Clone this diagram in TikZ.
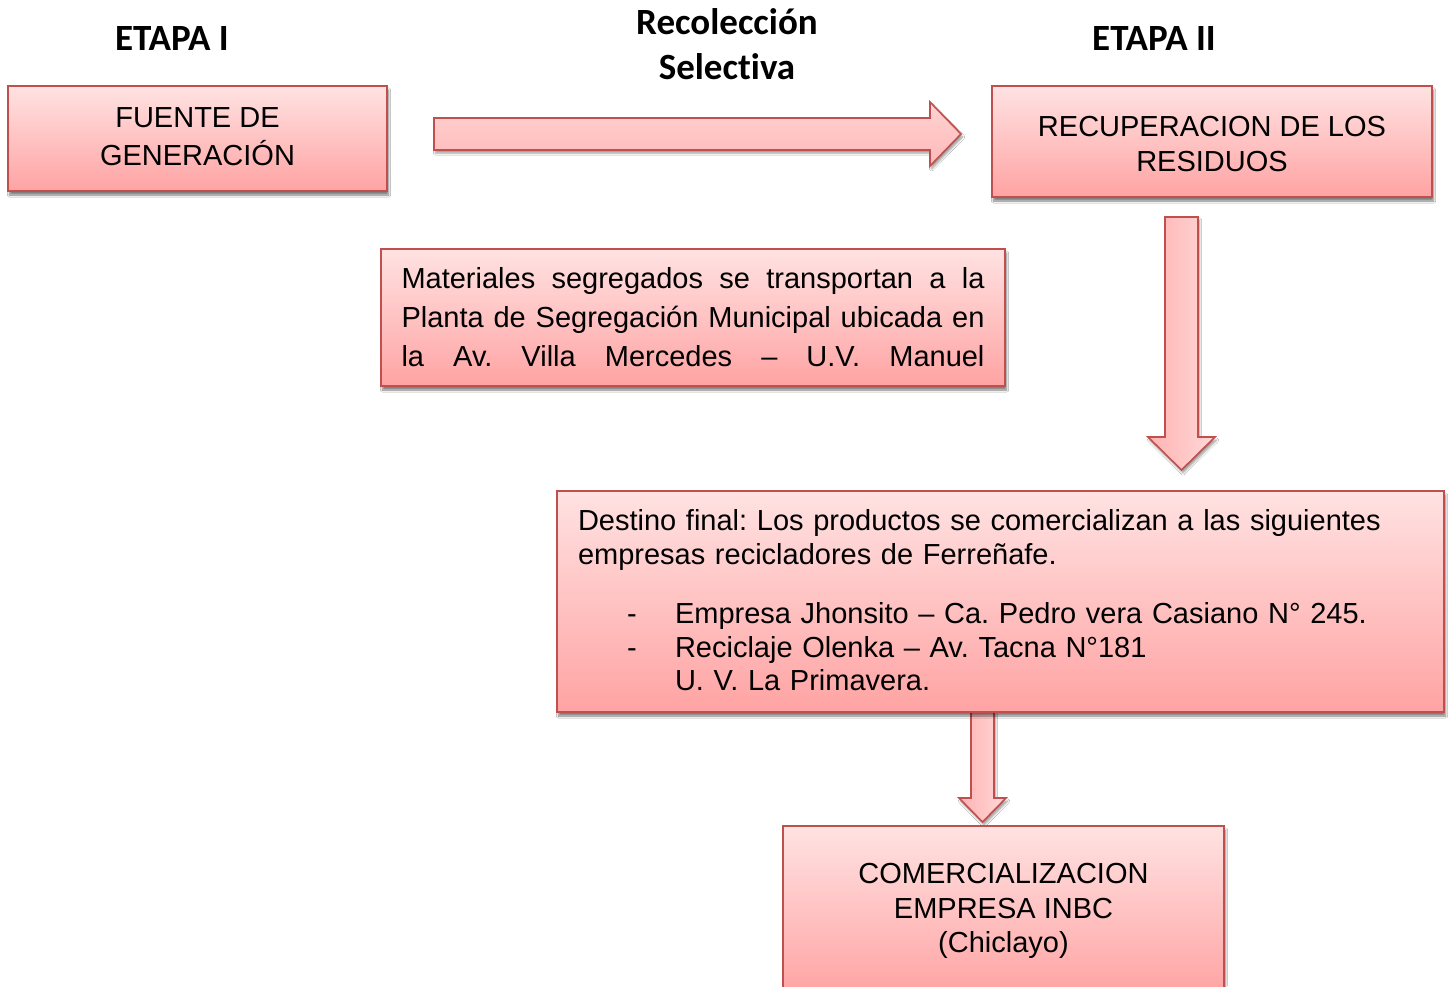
\documentclass[tikz,border=0pt]{standalone}
\usepackage{fontspec}
\setmainfont{Liberation Sans}
\newfontfamily\hdrfont[Ligatures=NoCommon]{Carlito}
\usetikzlibrary{calc,shadows.blur}
\definecolor{bordc}{RGB}{192,80,77}
\definecolor{boxtop}{RGB}{255,226,226}
\definecolor{boxbot}{RGB}{255,163,163}
\definecolor{arrL}{RGB}{255,178,178}
\definecolor{arrR}{RGB}{255,216,216}
\definecolor{arrT}{RGB}{255,210,210}
\definecolor{arrB}{RGB}{255,185,185}
\frenchspacing
\newcommand\fullline[1]{\leavevmode\hbox to 583pt{#1}}
\begin{document}
\begin{tikzpicture}[x=1pt,y=-1pt,
  box/.style={draw=bordc, line width=1.6pt, top color=boxtop, bottom color=boxbot,
    blur shadow={shadow xshift=1.5pt, shadow yshift=-4pt, shadow blur steps=6, shadow opacity=50},
    inner sep=0pt, align=center},
  hdr/.style={font=\hdrfont\bfseries\fontsize{37}{45}\selectfont, align=center, inner sep=0pt},
  barrow/.style={draw=bordc, line width=1.6pt,
    blur shadow={shadow xshift=1.5pt, shadow yshift=-3pt, shadow blur steps=6, shadow opacity=40}},
]
\useasboundingbox (0,0) rectangle (1450,986);
\fill[white] (0,0) rectangle (1450,986);

% headers
\node[hdr] (h1) at (172,38) {ETAPA I};
\node[hdr] (h2) at (727,44) {Recolección\\Selectiva};
\node[hdr] (h3) at (1154,38) {ETAPA II};

% arrows
\coordinate (r1s) at (434,134);
\coordinate (r1e) at (961,134);
\draw[barrow, top color=arrT, bottom color=arrB]
  ($(r1s)+(0,-16)$) -- ($(r1e)+(-31,-16)$) -- ($(r1e)+(-31,-32)$) -- (r1e)
  -- ($(r1e)+(-31,32)$) -- ($(r1e)+(-31,16)$) -- ($(r1s)+(0,16)$) -- cycle;

\coordinate (d1s) at (1181.5,217);
\coordinate (d1e) at (1181.5,470);
\draw[barrow, left color=arrL, right color=arrR]
  ($(d1s)+(-16.5,0)$) -- ($(d1e)+(-16.5,-33)$) -- ($(d1e)+(-33.5,-33)$) -- (d1e)
  -- ($(d1e)+(33.5,-33)$) -- ($(d1e)+(16.5,-33)$) -- ($(d1s)+(16.5,0)$) -- cycle;

\coordinate (d2s) at (982.5,712);
\coordinate (d2e) at (982.5,822);
\draw[barrow, left color=arrL, right color=arrR]
  ($(d2s)+(-11.5,0)$) -- ($(d2e)+(-11.5,-24)$) -- ($(d2e)+(-23.5,-24)$) -- (d2e)
  -- ($(d2e)+(23.5,-24)$) -- ($(d2e)+(11.5,-24)$) -- ($(d2s)+(11.5,0)$) -- cycle;

% boxes
\node[box, minimum width=379, minimum height=105, font=\fontsize{29}{38}\selectfont]
  (fuente) at (197.5,138.5) {FUENTE DE\\GENERACIÓN\rule[-4pt]{0pt}{0pt}};
\node[box, minimum width=440, minimum height=111, font=\fontsize{29}{35}\selectfont]
  (recup) at (1212,141.5) {\rule{0pt}{25pt}RECUPERACION DE LOS\\RESIDUOS};
\node[box, minimum width=624, minimum height=137, text width=583, align=left,
  font=\fontsize{29}{39}\selectfont] (mat) at (693,317.5)
  {\fullline{Materiales\hfill segregados\hfill se\hfill transportan\hfill a\hfill la}\\
   \fullline{Planta\hfill de\hfill Segregación\hfill Municipal\hfill ubicada\hfill en}\\
   \fullline{la\hfill Av.\hfill Villa\hfill Mercedes\hfill –\hfill U.V.\hfill Manuel\rule[-2pt]{0pt}{0pt}}};
\node[box, minimum width=887, minimum height=221, text width=845, align=left,
  font=\fontsize{29}{33.5}\selectfont] (dest) at (1000.5,601.5)
  {Destino final: Los productos se comercializan a las siguientes\\
   empresas recicladores de Ferreñafe.\\[26pt]
   \makebox[97pt][l]{\hspace*{49pt}-}Empresa Jhonsito – Ca. Pedro vera Casiano N° 245.\\
   \makebox[97pt][l]{\hspace*{49pt}-}Reciclaje Olenka – Av. Tacna N°181\\
   \hspace*{97pt}U. V. La Primavera.\rule[-3pt]{0pt}{0pt}};
\node[box, minimum width=441, minimum height=170, font=\fontsize{29}{34.5}\selectfont]
  (comer) at (1003.5,911) {COMERCIALIZACION\\EMPRESA INBC\\(Chiclayo)};
\end{tikzpicture}
\end{document}
